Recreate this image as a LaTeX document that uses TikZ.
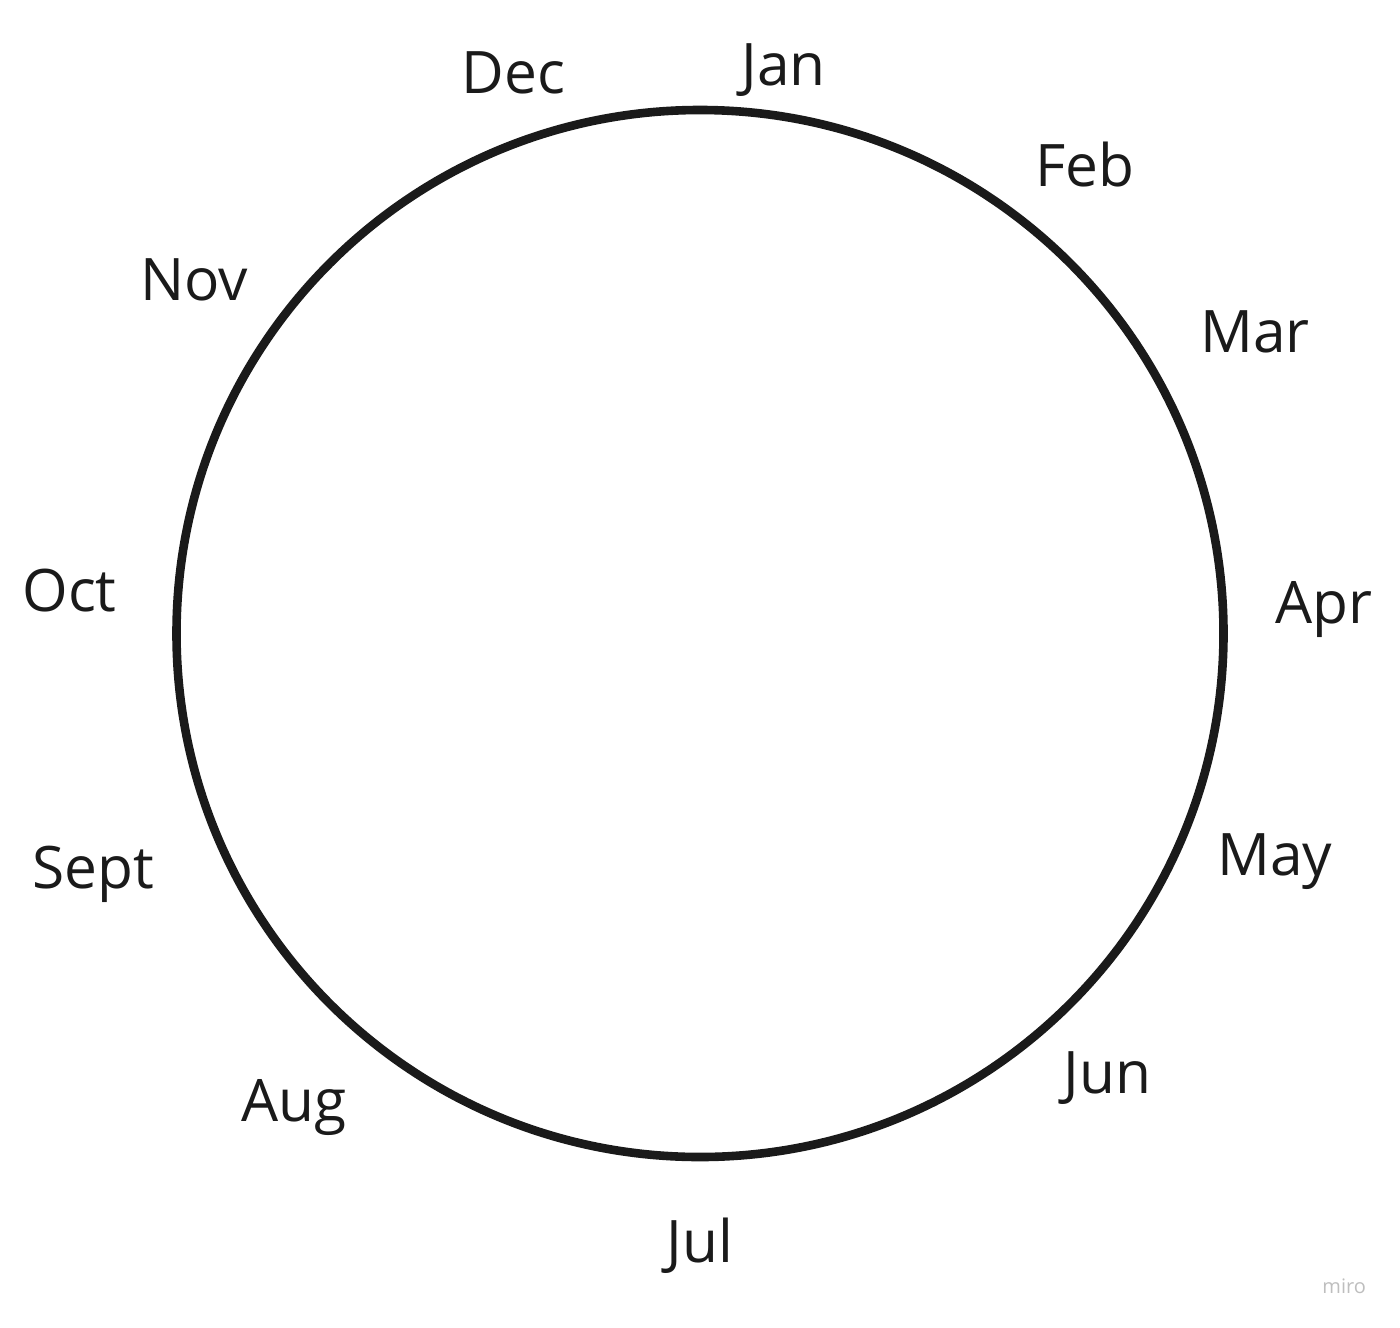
\documentclass[tikz,border=0pt]{standalone}
\usepackage{fontspec}
\setmainfont{Open Sans}
\definecolor{ink}{HTML}{1A1A1A}
\definecolor{faint}{HTML}{BEBEBE}
\begin{document}
\begin{tikzpicture}[
      x=0.5pt, y=-0.5pt,
      every node/.style={inner sep=0pt, text=ink},
      month/.style={anchor=base west, font=\fontsize{29.3}{35}\selectfont}
    ]
      \useasboundingbox (0,0) rectangle (1400,1327);

      % The year ring
      \coordinate (centre) at (700,633.5);
      \draw[ink, line width=4.3pt] (centre) circle[radius=261.75pt];

      % Months round the ring
      \node[month] (jan) at (741,85) {Jan};
      \node[month] (feb) at (1035,186) {Feb};
      \node[month] (mar) at (1200,352) {Mar};
      \node[month] (apr) at (1275,623) {Apr};
      \node[month] (may) at (1217,875) {May};
      \node[month] (jun) at (1063,1093) {Jun};
      \node[month] (jul) at (666,1262) {Jul};
      \node[month] (aug) at (241,1121) {Aug};
      \node[month] (sept) at (32,888) {Sept};
      \node[month] (oct) at (22,611) {Oct};
      \node[month] (nov) at (140,300) {Nov};
      \node[month] (dec) at (461,93) {Dec};

      % Watermark
      \node[anchor=base west, text=faint, font=\fontsize{10}{12}\selectfont] (miro) at (1322,1293) {miro};
    \end{tikzpicture}
\end{document}
